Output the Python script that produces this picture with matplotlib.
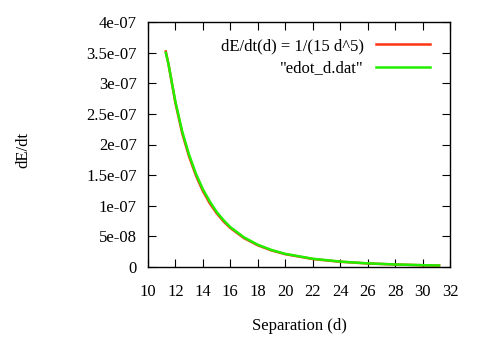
import matplotlib
matplotlib.use("Agg")
import matplotlib.pyplot as plt
from matplotlib.ticker import FuncFormatter, MultipleLocator

# values
d_func = [11.3, 11.5, 12, 12.5, 13, 13.5, 14, 14.5, 15, 15.5, 16, 17, 18, 19, 20, 22, 24, 26, 28, 30, 31.2]
e_func = [3.52e-7, 3.31e-7, 2.68e-7, 2.18e-7, 1.80e-7, 1.49e-7, 1.24e-7, 1.04e-7, 8.78e-8, 7.45e-8,
          6.36e-8, 4.70e-8, 3.53e-8, 2.69e-8, 2.08e-8, 1.29e-8, 8.4e-9, 5.6e-9, 3.9e-9, 2.7e-9, 2.26e-9]

d_dat = [11.3, 11.5, 12, 12.5, 13, 13.5, 14, 14.5, 15, 15.5, 16, 17, 18, 19, 20, 22, 24, 26, 28, 30, 31.2]
e_dat = [3.50e-7, 3.31e-7, 2.70e-7, 2.21e-7, 1.83e-7, 1.52e-7, 1.27e-7, 1.07e-7, 9.0e-8, 7.65e-8,
         6.5e-8, 4.82e-8, 3.62e-8, 2.76e-8, 2.13e-8, 1.33e-8, 8.7e-9, 5.8e-9, 4.0e-9, 2.8e-9, 2.3e-9]

plt.rcParams['font.family'] = ['Liberation Serif', 'DejaVu Serif']
plt.rcParams['font.size'] = 12

fig = plt.figure(figsize=(4.85, 3.4), dpi=100)
ax = fig.add_axes([0.305, 0.215, 0.623, 0.72])

ax.plot(d_func, e_func, color='#ff3311', lw=1.8, label='dE/dt(d) = 1/(15 d^5)')
ax.plot(d_dat, e_dat, color='#22ee00', lw=1.8, label='"edot_d.dat"')

ax.set_xlim(10, 32)
ax.set_ylim(0, 4e-7)
ax.xaxis.set_major_locator(MultipleLocator(2))
ax.yaxis.set_major_locator(MultipleLocator(5e-8))
ax.yaxis.set_major_formatter(FuncFormatter(lambda v, p: '%g' % v if abs(v) > 1e-12 else '0'))
ax.tick_params(direction='in', top=True, right=True, length=6, width=0.8, labelsize=12)
ax.tick_params(axis='x', pad=12)
ax.tick_params(axis='y', pad=8)
for s in ax.spines.values():
    s.set_linewidth(1.0)

ax.legend(loc='upper right', frameon=False, markerfirst=False, handlelength=3.2,
          handletextpad=0.75, labelspacing=0.4, borderaxespad=0.55, fontsize=12,
          bbox_to_anchor=(0.985, 1.0))

fig.text(23 / 485, 1 - 150 / 340, 'dE/dt', rotation=90, ha='center', va='center', fontsize=12)
fig.text(299 / 485, 1 - 326 / 340, 'Separation (d)', ha='center', va='center', fontsize=12)

fig.savefig('out.png', dpi=100)
